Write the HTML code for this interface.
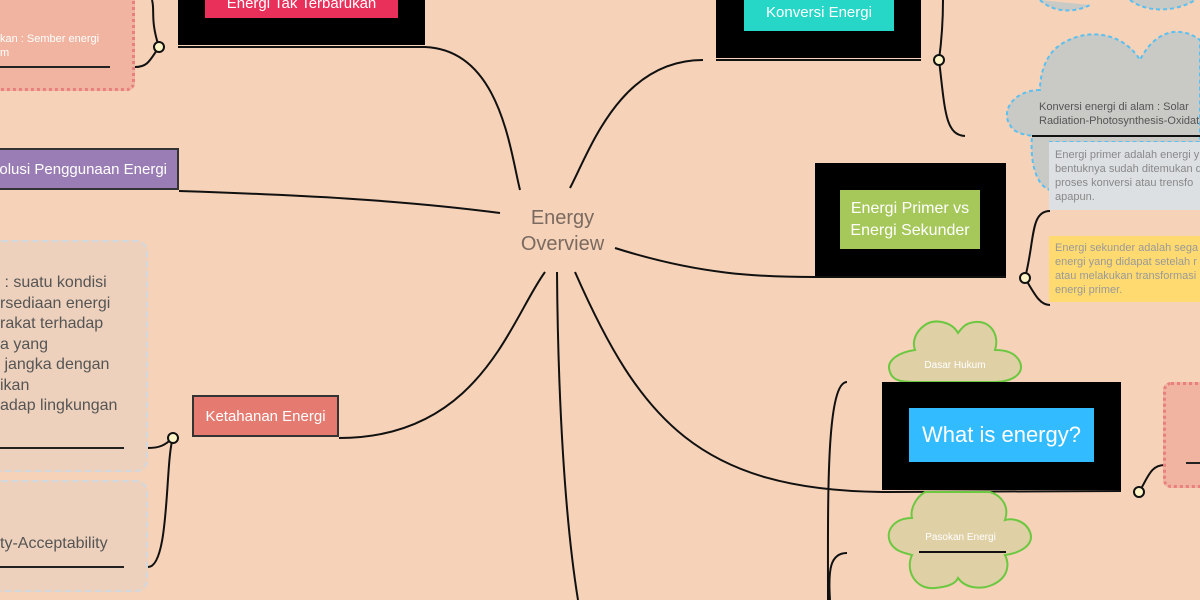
<!DOCTYPE html>
<html><head><meta charset="utf-8"><style>
body{margin:0;width:1200px;height:600px;overflow:hidden;background:#f6d2b8;font-family:"Liberation Sans",sans-serif;position:relative}
.a{position:absolute;box-sizing:border-box}
.t{color:#fff;display:flex;align-items:center;justify-content:center;text-align:center}
</style></head><body>
<svg class="a" style="left:0;top:0" width="1200" height="600">
<g fill="none" stroke="#111" stroke-width="2">
<path d="M425,47 C500,50 510,150 520,190"/>
<path d="M179,191 C300,195 400,200 500,213"/>
<path d="M339,438 C480,438 510,320 545,272"/>
<path d="M703,60 C620,60 590,150 570,188"/>
<path d="M615,248 C700,275 760,277 815,277 L1006,277"/>
<path d="M575,272 C640,420 700,490 882,492 L1121,491"/>
<path d="M557,272 C558,400 565,520 578,600"/>
<path d="M159,47 C150,20 155,10 152,0"/>
<path d="M159,47 C150,60 148,67 135,67"/>
<path d="M939,60 C943,30 943,10 943,0"/>
<path d="M939,60 C945,110 945,135 965,136"/>
<path d="M1025,278 C1035,240 1030,211 1050,211"/>
<path d="M1025,278 C1035,295 1040,305 1050,305"/>
<path d="M1139,492 C1148,478 1150,465 1165,465"/>
<path d="M173,438 C165,460 170,567 148,567"/>
<path d="M173,438 C165,445 160,448 148,448"/>
<path d="M828,600 C828,500 826,382 847,382"/>
<path d="M830,600 C828,570 830,553 847,553"/>
<path d="M178,47 L425,47 M716,60 L921,60"/>
</g>
<g fill="#dfd0a6" stroke="#6cc840" stroke-width="2">
<path d="M915,350 C900,352 885,360 890,372 C893,382 905,382 915,382 L995,382 C1010,382 1025,375 1020,362 C1015,352 1005,350 995,350 C1000,335 990,320 975,322 C965,323 962,328 958,333 C952,322 935,318 925,325 C915,332 912,342 915,350Z"/>
<path d="M912,518 C895,518 885,530 890,542 C895,552 905,553 912,555 C905,570 915,590 935,588 C945,587 955,585 958,578 C965,588 980,590 992,585 C1008,578 1010,565 1005,555 C1020,553 1035,545 1030,532 C1025,520 1012,518 1005,520 C1010,505 1000,495 990,492 L925,492 C915,498 910,510 912,518Z"/>
</g>
<g fill="#c9cac6" stroke="#5bc0f0" stroke-width="2" stroke-dasharray="4,3">
<path d="M1040,90 C1015,90 1000,110 1010,125 C1015,135 1030,135 1032,136 C1030,160 1035,185 1050,190 L1050,142 L1200,142 L1200,40 C1180,25 1155,30 1140,60 C1125,35 1090,25 1060,45 C1045,55 1040,75 1040,90Z"/>
<path d="M1040,0 C1050,10 1070,15 1090,5 M1130,0 C1150,15 1180,10 1195,0"/>
</g>
<line x1="1032" y1="136" x2="1200" y2="136" stroke="#111" stroke-width="2"/>
<line x1="919" y1="552" x2="1006" y2="552" stroke="#111" stroke-width="2"/>
<g fill="#fdf5c8" stroke="#111" stroke-width="2">
<circle cx="159" cy="47" r="5"/><circle cx="173" cy="438" r="5"/><circle cx="939" cy="60" r="5"/><circle cx="1025" cy="278" r="5"/><circle cx="1139" cy="492" r="5"/>
</g>
</svg>
<div class="a" style="left:-10px;top:0;width:145px;height:91px;background:#f0b4a0;border:3px dotted #e88080;border-top:none;border-radius:0 0 8px 0"></div>
<div class="a" style="left:0;top:32px;color:#fff;font-size:11px;line-height:14px">kan : Sember energi<br>m</div>
<div class="a" style="left:0;top:66px;width:110px;height:2px;background:#222"></div>
<div class="a" style="left:178px;top:0;width:247px;height:45px;background:#000"></div>
<div class="a t" style="left:205px;top:-12px;width:193px;height:30px;background:#e8305a;font-size:15px">Energi Tak Terbarukan</div>
<div class="a t" style="left:-2px;top:148px;width:181px;height:42px;background:#9b7db5;border:2px solid #333;font-size:15px;justify-content:flex-end;padding-right:10px;white-space:nowrap;overflow:hidden">olusi Penggunaan Energi</div>
<div class="a" style="left:-10px;top:240px;width:158px;height:232px;background:#edd1bc;border:2px dashed #d0d8e0;border-radius:12px"></div>
<div class="a" style="left:0;top:273px;color:#555;font-size:16px;line-height:20.5px">&nbsp;: suatu kondisi<br>rsediaan energi<br>rakat terhadap<br>a yang<br>&nbsp;jangka dengan<br>ikan<br>adap lingkungan</div>
<div class="a" style="left:0;top:447px;width:124px;height:2px;background:#222"></div>
<div class="a" style="left:-10px;top:480px;width:158px;height:112px;background:#edd1bc;border:2px dashed #d0d8e0;border-radius:12px"></div>
<div class="a" style="left:0;top:535px;color:#555;font-size:16px">ty-Acceptability</div>
<div class="a" style="left:0;top:566px;width:124px;height:2px;background:#222"></div>
<div class="a t" style="left:192px;top:395px;width:147px;height:42px;background:#e57a70;border:2px solid #333;font-size:15px">Ketahanan Energi</div>
<div class="a" style="left:500px;top:205px;width:125px;text-align:center;color:#7a6a60;font-size:20px;line-height:26px">Energy<br>Overview</div>
<div class="a" style="left:716px;top:0;width:205px;height:58px;background:#000"></div>
<div class="a t" style="left:744px;top:-10px;width:150px;height:41px;background:#26d6c6;font-size:15px;align-items:flex-end;padding-bottom:10px">Konversi Energi</div>
<div class="a" style="left:1039px;top:100px;color:#555;font-size:11px;line-height:14px;white-space:nowrap">Konversi energi di alam : Solar<br>Radiation-Photosynthesis-Oxidation</div>
<div class="a" style="left:1049px;top:142px;width:160px;height:68px;background:#dde0e3;color:#888;font-size:11px;line-height:14px;padding:6px;white-space:nowrap">Energi primer adalah energi y<br>bentuknya sudah ditemukan di<br>proses konversi atau trensfo<br>apapun.</div>
<div class="a" style="left:815px;top:163px;width:191px;height:113px;background:#000"></div>
<div class="a t" style="left:840px;top:190px;width:140px;height:59px;background:#a6c85a;font-size:16px;line-height:22px">Energi Primer vs<br>Energi Sekunder</div>
<div class="a" style="left:1049px;top:236px;width:160px;height:66px;background:#ffda70;color:#999;font-size:11px;line-height:14px;padding:5px 6px;white-space:nowrap">Energi sekunder adalah sega<br>energi yang didapat setelah r<br>atau melakukan transformasi<br>energi primer.</div>
<div class="a" style="left:888px;top:360px;width:134px;text-align:center;color:#fff;font-size:10px">Dasar Hukum</div>
<div class="a" style="left:888px;top:532px;width:145px;text-align:center;color:#fff;font-size:10px">Pasokan Energi</div>
<div class="a" style="left:882px;top:382px;width:239px;height:108px;background:#000"></div>
<div class="a t" style="left:909px;top:408px;width:185px;height:54px;background:#33bbff;font-size:22px">What is energy?</div>
<div class="a" style="left:1163px;top:382px;width:50px;height:106px;background:#f0b4a0;border:3px dotted #e88080;border-radius:8px"></div>
<div class="a" style="left:1186px;top:462px;width:20px;height:2px;background:#222"></div>
</body></html>
